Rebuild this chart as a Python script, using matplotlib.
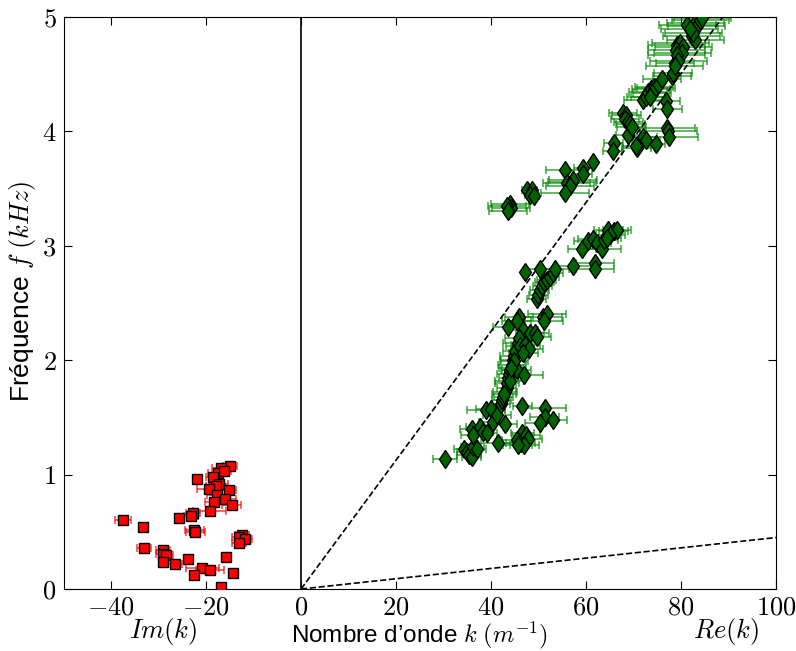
import numpy as np
import matplotlib
matplotlib.use("Agg")
import matplotlib.pyplot as plt

plt.rcParams['font.family'] = ['Liberation Sans', 'DejaVu Sans']
plt.rcParams['mathtext.fontset'] = 'cm'

# Im(k) branch (red squares)
red_k = [-14.9, -16.8, -17.5, -16.2, -18.6, -22.0, -17.3, -18.0, -19.4, -15.2, -17.7, -16.1,
         -18.3, -14.6, -19.2, -22.7, -23.2, -25.6, -37.5, -33.3, -22.5, -22.3, -12.5, -13.1,
         -11.9, -13.1, -33.1, -29.0, -29.0, -28.4, -23.9, -29.0, -15.9, -26.5, -20.8, -19.2,
         -14.3, -22.5, -16.9]
red_f = [1.078, 1.06, 1.017, 1.03, 0.98, 0.96, 0.918, 0.90, 0.874, 0.865, 0.82, 0.79,
         0.76, 0.737, 0.68, 0.66, 0.64, 0.62, 0.60, 0.54, 0.516, 0.50, 0.475, 0.455,
         0.437, 0.40, 0.36, 0.34, 0.31, 0.297, 0.262, 0.24, 0.28, 0.22, 0.18, 0.163,
         0.14, 0.12, 0.02]
red_err = [1.5, 2.0, 2.0, 1.5, 1.5, 0.5, 2.0, 2.0, 2.5, 1.5, 2.0, 2.5,
           2.0, 2.0, 3.5, 1.5, 1.5, 0.5, 1.7, 0.3, 2.0, 2.0, 1.5, 1.5,
           1.5, 1.5, 1.5, 1.5, 1.5, 1.5, 0.5, 0.5, 0.3, 1.5, 3.5, 3.0,
           0.3, 0.3, 0.3]

# Re(k) branch (green diamonds)
green_k = [30.3, 34.2, 34.9, 35.4, 35.9, 36.1, 37.0, 36.0, 36.2, 37.7, 38.4, 39.2,
           38.9, 39.9, 40.4, 41.3, 43.0, 41.5, 46.6, 51.4, 51.3, 50.2, 53.0, 46.6,
           45.4, 46.2, 47.4, 47.8, 47.0, 45.6,
           42.0, 42.3, 42.6, 43.0, 43.3, 43.3, 43.6, 43.8, 44.0, 44.4, 44.6, 44.9, 45.1,
           45.4, 47.0, 42.8, 43.9, 44.8, 45.6, 44.2,
           43.5, 45.9, 45.4, 51.0, 51.7, 51.2, 46.8, 48.2, 49.3, 49.6, 45.9, 46.1, 47.2,
           47.9, 46.8,
           49.6, 49.9, 50.3, 50.8, 51.2, 51.7, 52.4, 53.1, 47.2,
           50.3, 53.5, 57.3, 61.8, 61.9, 59.1, 60.5, 61.4, 62.3, 63.3, 63.8, 64.7, 65.8,
           66.5, 65.1, 64.4,
           43.9, 44.2, 43.3, 43.6, 47.6, 48.6, 48.2, 49.1,
           55.6, 59.4, 59.3, 61.5, 55.9, 57.0, 57.3, 56.6, 55.6,
           65.8, 65.6, 70.7, 70.6, 74.7, 72.0, 72.6, 68.9, 77.0, 77.3, 77.5,
           67.8, 68.5, 68.2, 68.9, 69.3, 69.6,
           76.8, 77.1, 72.0, 72.6, 73.1, 73.6, 74.2, 74.8, 73.8, 73.5, 75.9, 78.0, 78.4, 78.7,
           83.0, 83.3, 81.3, 84.0, 82.2, 83.0, 82.6, 79.1, 79.8, 80.5, 79.0, 80.2, 79.1,
           79.4, 78.7, 81.8, 84.5]
green_f = [1.136, 1.22, 1.20, 1.17, 1.15, 1.24, 1.22, 1.40, 1.35, 1.42, 1.375, 1.36,
           1.56, 1.57, 1.46, 1.52, 1.44, 1.28, 1.60, 1.58, 1.50, 1.45, 1.48, 1.36,
           1.30, 1.28, 1.35, 1.31, 1.26, 1.26,
           1.62, 1.65, 1.68, 1.72, 1.76, 1.80, 1.84, 1.88, 1.91, 1.96, 2.00, 2.04, 2.08,
           1.91, 1.87, 1.70, 1.82, 1.99, 2.15, 1.93,
           2.29, 2.38, 2.34, 2.38, 2.40, 2.34, 2.26, 2.235, 2.235, 2.20, 2.19, 2.12, 2.13,
           2.10, 2.06,
           2.53, 2.57, 2.61, 2.65, 2.68, 2.70, 2.73, 2.76, 2.77,
           2.80, 2.80, 2.82, 2.85, 2.80, 2.97, 3.045, 3.06, 3.02, 2.97, 3.05, 3.14, 3.13,
           3.14, 3.09, 3.065,
           3.36, 3.33, 3.35, 3.30, 3.49, 3.49, 3.44, 3.43,
           3.66, 3.68, 3.63, 3.73, 3.55, 3.56, 3.575, 3.52, 3.46,
           3.90, 3.83, 3.85, 3.87, 3.89, 3.95, 3.92, 3.97, 4.03, 4.00, 3.95,
           4.16, 4.14, 4.11, 4.085, 4.06, 4.04,
           4.26, 4.19, 4.27, 4.30, 4.34, 4.37, 4.39, 4.38, 4.33, 4.30, 4.455, 4.48, 4.51, 4.60,
           4.95, 4.92, 4.93, 4.97, 4.83, 4.80, 4.86, 4.755, 4.77, 4.74, 4.71, 4.68, 4.67,
           4.61, 4.57, 4.89, 4.99]
green_err = [2.5, 2.0, 2.0, 2.5, 2.0, 2.5, 2.0, 2.5, 2.5, 3.0, 2.0, 2.0,
             4.0, 3.0, 3.0, 3.0, 2.5, 3.7, 2.0, 4.3, 3.0, 3.0, 3.0, 2.5,
             3.0, 3.0, 3.0, 3.0, 3.0, 3.0,
             2.0, 2.0, 2.0, 2.5, 2.0, 2.5, 2.0, 2.5, 2.0, 3.0, 2.5, 3.0, 2.5,
             3.0, 4.0, 2.5, 3.0, 3.0, 3.0, 2.5,
             3.0, 3.0, 3.0, 4.0, 4.0, 4.0, 3.0, 3.0, 3.0, 3.0, 3.0, 3.0, 3.0,
             3.0, 3.0,
             2.0, 2.0, 2.0, 2.0, 2.0, 2.0, 2.0, 2.0, 0.5,
             3.0, 3.0, 4.0, 4.0, 4.0, 3.0, 3.0, 3.0, 3.0, 4.0, 3.0, 3.0, 3.0,
             3.0, 3.0, 3.0,
             4.0, 4.0, 4.0, 4.0, 1.0, 1.0, 1.0, 1.0,
             4.0, 2.0, 2.0, 0.5, 5.0, 5.0, 5.0, 5.0, 5.0,
             2.0, 2.0, 3.0, 3.0, 2.0, 3.0, 3.0, 2.5, 6.0, 6.0, 6.0,
             3.0, 3.0, 3.0, 3.0, 3.0, 3.0,
             3.0, 3.0, 4.0, 4.0, 4.0, 4.0, 4.0, 4.0, 4.0, 4.0, 4.0, 4.0, 4.0, 4.0,
             6.0, 6.0, 6.0, 6.0, 6.0, 6.0, 6.0, 6.0, 6.0, 6.0, 6.0, 6.0, 6.0,
             6.0, 6.0, 6.0, 6.0]

# slopes of the two reference lines (kHz per m^-1)
slope_fast = 5.0 / 88.8
slope_slow = 0.45 / 100.0

fig = plt.figure(figsize=(7.96, 6.51), dpi=100)
ax = fig.add_axes([0.0798, 0.0952, 0.8952, 0.879])

ax.errorbar(red_k, red_f, xerr=red_err, fmt='none', ecolor=(1, 0, 0, 0.7),
            elinewidth=1.2, capsize=3, capthick=1.2, zorder=2)
ax.plot(red_k, red_f, 's', color='red', mec='black', mew=1, ms=7, zorder=3)

ax.errorbar(green_k, green_f, xerr=green_err, fmt='none', ecolor=(0, 0.55, 0, 0.7),
            elinewidth=1.2, capsize=3, capthick=1.2, zorder=2)
ax.plot(green_k, green_f, 'd', color='#006400', mec='black', mew=1, ms=9.5, zorder=3)

kk = np.array([0, 100])
ax.plot(kk, slope_fast * kk, 'k--', lw=1.2)
ax.plot(kk, slope_slow * kk, 'k--', lw=1.2)
ax.axvline(0, color='black', lw=1.2)

ax.set_xlim(-50, 100)
ax.set_ylim(0, 5)
ax.set_xticks(range(-40, 101, 20))
ax.set_yticks(range(0, 6))
ax.set_xticklabels([f'${v}$' for v in range(-40, 101, 20)])
ax.set_yticklabels([f'${v}$' for v in range(0, 6)])
ax.tick_params(direction='in', top=True, right=True, length=6, labelsize=19, pad=5)

ax.set_xlabel("Nombre d’onde $k$ $(m^{-1})$", fontsize=17.5)
ax.xaxis.set_label_coords(0.5, -0.053)
ax.set_ylabel("Fréquence $f$ $(kHz)$", fontsize=19)
ax.yaxis.set_label_coords(-0.036, 0.52)
ax.text(-29, -0.37, '$Im(k)$', fontsize=19, ha='center', va='center')
ax.text(89.5, -0.37, '$Re(k)$', fontsize=19, ha='center', va='center')

fig.savefig('out.png', dpi=100)
